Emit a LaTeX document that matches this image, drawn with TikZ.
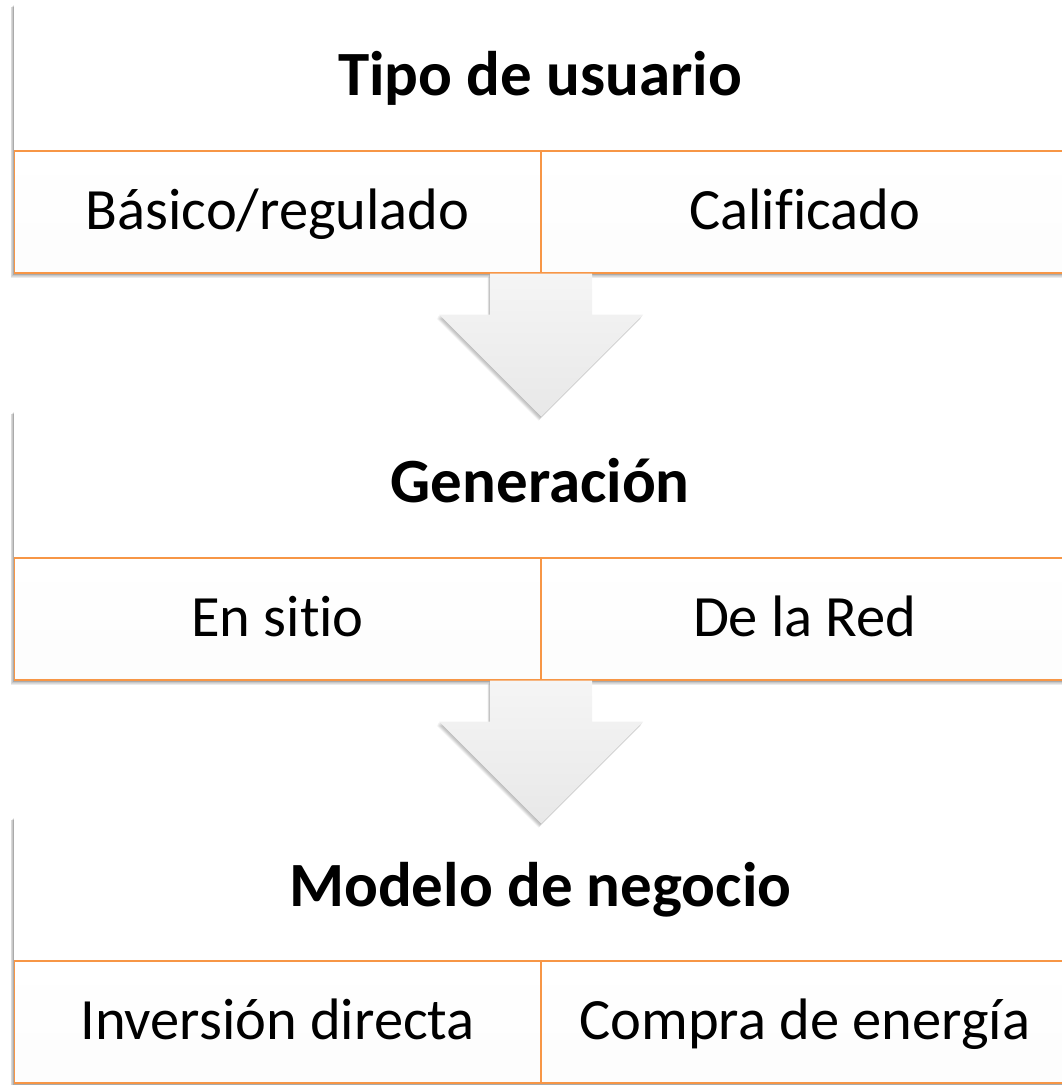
\documentclass[tikz,border=0pt]{standalone}
\usepackage{fontspec}
\setmainfont{Carlito}[Ligatures=NoCommon]
\usetikzlibrary{backgrounds}

\definecolor{naranja}{HTML}{F79646}
\definecolor{grisflecha}{HTML}{E8E8E8}

\tikzset{
  cabecera/.style={anchor=north west, minimum width=1052pt, minimum height=145pt,
    inner sep=0pt, fill=white, text height=41pt, text depth=6pt,
    font=\fontsize{63}{75}\selectfont\bfseries},
  celda/.style={anchor=north west, draw=naranja, line width=1.2pt,
    minimum width=526pt, minimum height=122pt, inner sep=0pt,
    text height=38pt, text depth=4pt,
    top color=white, bottom color=black!1, font=\fontsize{58.5}{70}\selectfont},
  sombra/.style={fill=black, opacity=.08},
  flecha/.style={top color=black!4, bottom color=grisflecha}
}

\begin{document}
\begin{tikzpicture}[x=1pt, y=-1pt]
\useasboundingbox (0,0) rectangle (1061,1085);

% tipo de usuario
\node[cabecera] (tipo) at (14,5) {Tipo de usuario};
\node[celda] (basico) at (tipo.south west) {Básico/regulado};
\node[celda] (calif) at (basico.north east) {Calificado};

% generacion
\node[cabecera] (gen) at (14,412) {Generación};
\node[celda] (sitio) at (gen.south west) {En sitio};
\node[celda] (red) at (sitio.north east) {De la Red};

% modelo de negocio
\node[cabecera, minimum height=142pt] (modelo) at (14,818) {Modelo de negocio};
\node[celda] (inversion) at (modelo.south west) {Inversión directa};
\node[celda] (compra) at (inversion.north east) {Compra de energía};

% sombras suaves
\begin{scope}[on background layer]
\foreach \a/\b in {tipo/calif,gen/red,modelo/compra}
  \foreach \d in {1,...,5}
    \path[sombra] ([shift={(-\d*0.7,\d*0.4)}]\a.north west) rectangle ([shift={(-\d*0.2,\d*0.9)}]\b.south east);
\end{scope}

% flechas entre etapas
\foreach \n in {basico,sitio} {
  \foreach \d in {1,...,5}
    \path[sombra, opacity=.06] ([shift={(-51-\d*0.5,\d*0.8)}]\n.south east) -- ++(0,41) -- ++(-51,0)
      -- ++(102,102) -- ++(102,-102) -- ++(-51,0) -- ++(0,-41) -- cycle;
  \path[flecha] ([xshift=-51pt]\n.south east) -- ++(0,41) -- ++(-51,0)
    -- ++(102,102) -- ++(102,-102) -- ++(-51,0) -- ++(0,-41) -- cycle;
}
\end{tikzpicture}
\end{document}
